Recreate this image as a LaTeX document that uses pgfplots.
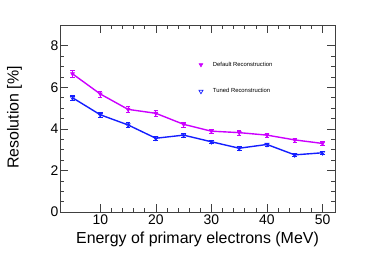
\documentclass[border=0pt]{standalone}
\usepackage{pgfplots}
\pgfplotsset{compat=1.18}
\usepackage{fontspec}
\setmainfont{Liberation Sans}
\definecolor{cmag}{RGB}{204,0,255}
\definecolor{cblue}{RGB}{20,30,255}
\begin{document}
\begin{tikzpicture}
\useasboundingbox (-60bp,-41bp) rectangle (314bp,212bp);
\begin{axis}[
  scale only axis,
  width=275bp, height=187bp,
  xmin=2.75, xmax=52.25, ymin=0, ymax=9,
  xtick={10,20,30,40,50}, ytick={0,2,4,6,8},
  minor x tick num=4, minor y tick num=3,
  tick align=inside, ticks=both,
  xtick pos=both, ytick pos=both,
  major tick length=8bp, minor tick length=4bp,
  axis line style={line width=0.8pt, black!75},
  tick style={line width=0.6pt, black!75},
  /pgf/number format/assume math mode=true,
  tick label style={font=\fontsize{14}{14}\selectfont},
  xticklabel style={yshift=1bp},
  yticklabel style={xshift=2bp},
  xlabel={Energy of primary electrons (MeV)},
  ylabel={Resolution [\%]},
  label style={font=\fontsize{16}{16}\selectfont},
  xlabel style={at={(axis description cs:0.5,-0.145)}, anchor=center},
  ylabel style={at={(axis description cs:-0.165,0.505)}, anchor=center, rotate=0},
  legend style={draw=none, fill=none, at={(axis description cs:0.49,0.815)}, anchor=north west,
    font=\fontsize{5.9}{5.9}\selectfont, row sep=17bp, inner sep=0pt},
  legend cell align=left,
  legend image code/.code={\path[draw=none, fill=none] (0,0) rectangle (16bp,0.1bp); \draw[#1, line width=0.6pt] plot coordinates {(6bp,0cm)};},
]
\addplot[cmag, line width=1.4pt, mark=triangle*, mark size=2.2pt,
  mark options={rotate=180, line width=0.6pt},
  error bars/.cd, y dir=both, y explicit, error mark=-, error bar style={line width=0.8pt}]
  coordinates {
  (5,6.65) +- (0,0.16)
  (10,5.68) +- (0,0.14)
  (15,4.94) +- (0,0.13)
  (20,4.75) +- (0,0.13)
  (25,4.22) +- (0,0.12)
  (30,3.89) +- (0,0.11)
  (35,3.82) +- (0,0.11)
  (40,3.70) +- (0,0.11)
  (45,3.47) +- (0,0.10)
  (50,3.30) +- (0,0.10)
};
\addlegendentry{Default Reconstruction}
\addplot[cblue, line width=1.4pt, mark=triangle, mark size=2.4pt,
  mark options={rotate=180, line width=0.7pt},
  error bars/.cd, y dir=both, y explicit, error mark=-, error bar style={line width=0.8pt}]
  coordinates {
  (5,5.5) +- (0,0.13)
  (10,4.68) +- (0,0.12)
  (15,4.19) +- (0,0.11)
  (20,3.55) +- (0,0.10)
  (25,3.70) +- (0,0.10)
  (30,3.38) +- (0,0.09)
  (35,3.07) +- (0,0.08)
  (40,3.25) +- (0,0.08)
  (45,2.75) +- (0,0.07)
  (50,2.85) +- (0,0.07)
};
\addlegendentry{Tuned Reconstruction}
\end{axis}
\end{tikzpicture}
\end{document}
